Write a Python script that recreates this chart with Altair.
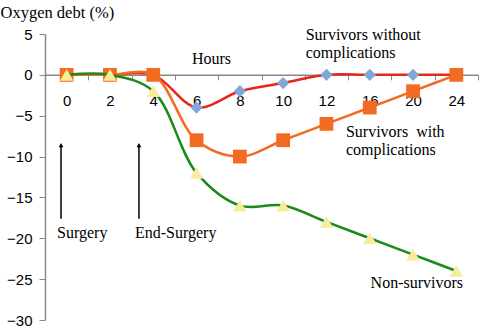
import altair as alt
import pandas as pd

hours = ["0", "2", "4", "6", "8", "10", "12", "16", "20", "24"]
no_comp = [0, 0, 0, -4, -2, -1, 0, 0, 0, 0]
with_comp = [0, 0, 0, -8, -10, -8, -6, -4, -2, 0]
non_surv = [0, 0, -2, -12, -16, -16, -18, -20, -22, -24]
no_comp_marker_hours = ["6", "8", "10", "12", "16", "20"]

W, H = 433, 286
TOP = 34
Y0, Y1 = -30, 5
zero_px = H * (Y1 - 0) / (Y1 - Y0)

df_no = pd.DataFrame({"h": hours, "v": no_comp})
df_no_m = df_no[df_no["h"].isin(no_comp_marker_hours)]
df_with = pd.DataFrame({"h": hours, "v": with_comp})
df_non = pd.DataFrame({"h": hours, "v": non_surv})

SERIF = "Liberation Serif"
SANS = "Liberation Sans"

xscale = alt.Scale(type="band", domain=hours, paddingInner=0, paddingOuter=0)
yscale = alt.Scale(domain=[Y0, Y1], nice=False)

xaxis = alt.Axis(
    title="Hours", tickBand="extent", orient="bottom", offset=-(H - zero_px),
    labelAngle=0, labelFont=SANS, labelFontSize=15, labelColor="black",
    labelPadding=14, tickSize=5, tickColor="#888888", domainColor="#888888",
    domainWidth=1.5, titleFont=SERIF, titleFontSize=16, titleFontWeight="normal",
    titleColor="black", titleX=166, titleY=-16, titleBaseline="middle",
    titleAnchor="middle", grid=False,
)
yaxis = alt.Axis(
    title="Oxygen debt (%)", values=[-30, -25, -20, -15, -10, -5, 0, 5],
    labelFont=SANS, labelFontSize=15, labelColor="black", labelPadding=7,
    tickSize=6, tickColor="#888888", domainColor="#888888", domainWidth=1.5,
    titleFont=SERIF, titleFontSize=16.5, titleFontWeight="normal", titleColor="black",
    titleAngle=0, titleX=-45, titleY=-22, titleAlign="left", titleBaseline="middle",
    grid=False,
)

def X(**kw):
    return alt.X("h:N", scale=xscale, sort=hours, bandPosition=0.5, **kw)

def Y(**kw):
    return alt.Y("v:Q", scale=yscale, **kw)

red_line = alt.Chart(df_no).mark_line(color="#e8251c", strokeWidth=2.5, interpolate="catmull-rom").encode(
    x=X(axis=xaxis), y=Y(axis=yaxis))
diam = alt.Chart(df_no_m).mark_point(shape="diamond", filled=True, color="#7fa7da", size=150, opacity=1).encode(
    x=X(), y=Y())
org_line = alt.Chart(df_with).mark_line(color="#f36a22", strokeWidth=2.5, interpolate="catmull-rom").encode(
    x=X(), y=Y())
sq = alt.Chart(df_with).mark_square(color="#f36a22", size=190, opacity=1).encode(x=X(), y=Y())
grn_line = alt.Chart(df_non).mark_line(color="#1a8a1a", strokeWidth=2.5, interpolate="catmull-rom").encode(
    x=X(), y=Y())
tri = alt.Chart(df_non).mark_point(shape="triangle-up", filled=True, color="#f7ec9a", size=180, opacity=1).encode(
    x=X(), y=Y())

# annotations
arr = pd.DataFrame({"h": ["0", "4"], "bp": [0.37, 0.17], "y1": [-17.6, -17.6], "y2": [-8.6, -8.6],
                    "lab": ["Surgery", "End-Surgery"]})
arrows = []
labels_txt = []
for i, r in arr.iterrows():
    d = pd.DataFrame([r])
    xx = alt.X("h:N", scale=xscale, sort=hours, bandPosition=float(r["bp"]))
    arrows.append(alt.Chart(d).mark_rule(color="black", strokeWidth=1.5).encode(
        x=xx, y=alt.Y("y1:Q", scale=yscale), y2="y2:Q"))
    arrows.append(alt.Chart(d).mark_point(shape="triangle-up", filled=True, color="black", size=22, opacity=1).encode(
        x=xx, y=alt.Y("y2:Q", scale=yscale)))
    labels_txt.append(alt.Chart(d).mark_text(font=SERIF, fontSize=16, align="left", baseline="middle", dx=-4,
                                             color="black").encode(
        x=xx, y=alt.value(233 - TOP), text="lab:N"))

txt_items = [
    ("12", -0.48, 35, "Survivors without"),
    ("12", -0.48, 53, "complications"),
    ("16", -0.55, 132, "Survivors\u00a0 with"),
    ("16", -0.55, 150, "complications"),
    ("24", -1.98, 283, "Non-survivors"),
]
for h, bp, ypx, t in txt_items:
    d = pd.DataFrame({"h": [h], "t": [t]})
    labels_txt.append(alt.Chart(d).mark_text(font=SERIF, fontSize=16, align="left", baseline="middle",
                                             color="black", dx=bp * W / 10).encode(
        x=alt.X("h:N", scale=xscale, sort=hours, bandPosition=0.5), y=alt.value(ypx - TOP), text="t:N"))

chart = alt.layer(red_line, diam, org_line, sq, grn_line, tri, *arrows, *labels_txt).properties(
    width=W, height=H,
    padding={"left": 45, "top": TOP, "right": 2, "bottom": 10},
    autosize=alt.AutoSizeParams(type="none"),
).configure_view(stroke=None)

chart.save("out.html", embed_options={"renderer": "svg", "actions": False})
